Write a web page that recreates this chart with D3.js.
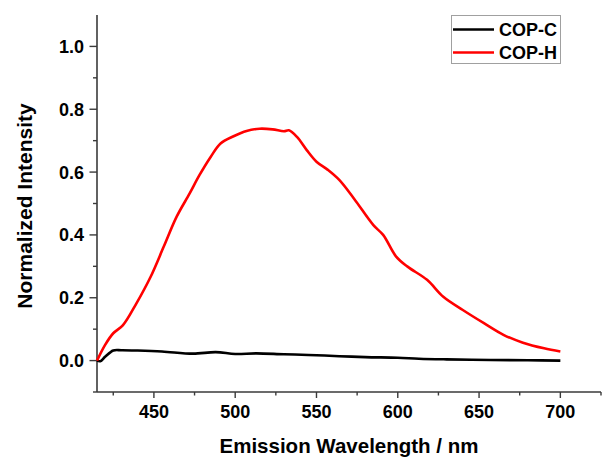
<!DOCTYPE html>
<html>
<head>
<meta charset="utf-8">
<script src="https://cdn.jsdelivr.net/npm/d3@7"></script>
<style>
  body { margin: 0; background: #fff; }
  svg { display: block; font-family: "Liberation Sans", Arial, sans-serif; font-weight: bold; }
</style>
</head>
<body>
<svg id="chart" width="602" height="459"></svg>
<script>
// wavelength (nm) / normalized intensity
const copCWave = [415, 417, 420, 425, 430, 440, 455, 474, 488, 500, 513, 530, 545, 564, 580, 600, 613, 630, 657, 680, 700];
const copCVal  = [0.0, -0.002, 0.012, 0.032, 0.033, 0.032, 0.029, 0.022, 0.027, 0.021, 0.023, 0.020, 0.018, 0.014, 0.011, 0.009, 0.006, 0.004, 0.002, 0.001, 0.0];

const copHWave = [415, 420, 425, 431, 439, 448, 456, 464, 472, 478, 485, 491, 499, 507, 515, 523, 530, 533, 538, 544, 550, 557, 564, 573, 585, 591, 599, 606, 618, 628, 640, 653, 665, 677, 690, 700];
const copHVal  = [0.0, 0.05, 0.087, 0.113, 0.18, 0.267, 0.362, 0.458, 0.532, 0.59, 0.649, 0.691, 0.714, 0.731, 0.738, 0.736, 0.730, 0.733, 0.712, 0.67, 0.633, 0.607, 0.575, 0.516, 0.431, 0.40, 0.331, 0.299, 0.257, 0.203, 0.161, 0.119, 0.082, 0.057, 0.039, 0.029];

const xTicks = [450, 500, 550, 600, 650, 700];
const yTicks = [0.0, 0.2, 0.4, 0.6, 0.8, 1.0];
const seriesNames = ["COP-C", "COP-H"];
const seriesColors = ["#000000", "#ff0000"];

const svg = d3.select("#chart");
const axisColor = "#3a3a3a";

const x = d3.scaleLinear().domain([415, 725]).range([97, 601]);
const y = d3.scaleLinear().domain([-0.1, 1.1]).range([392, 15]);

// x axis with minor ticks
const xMinor = d3.range(425, 726, 50);
const gx = svg.append("g").attr("transform", "translate(0,392)");
gx.append("line").attr("x1", 97).attr("x2", 601).attr("stroke", axisColor).attr("stroke-width", 1.6);
gx.selectAll(".maj").data(xTicks).join("line")
  .attr("x1", d => x(d)).attr("x2", d => x(d)).attr("y1", 0).attr("y2", 6)
  .attr("stroke", axisColor).attr("stroke-width", 1.4);
gx.selectAll(".min").data(xMinor).join("line")
  .attr("x1", d => x(d)).attr("x2", d => x(d)).attr("y1", 0).attr("y2", 3.5)
  .attr("stroke", axisColor).attr("stroke-width", 1.4);
gx.selectAll("text").data(xTicks).join("text")
  .attr("x", d => x(d)).attr("y", 26)
  .attr("text-anchor", "middle").attr("font-size", 18).attr("fill", "#000")
  .text(d => d);

// y axis with minor ticks
const yMinor = [-0.1, 0.1, 0.3, 0.5, 0.7, 0.9];
const gy = svg.append("g").attr("transform", "translate(97,0)");
gy.append("line").attr("y1", 15).attr("y2", 392).attr("stroke", axisColor).attr("stroke-width", 1.6);
gy.selectAll(".maj").data(yTicks).join("line")
  .attr("x1", -7.5).attr("x2", 0).attr("y1", d => y(d)).attr("y2", d => y(d))
  .attr("stroke", axisColor).attr("stroke-width", 1.4);
gy.selectAll(".min").data(yMinor).join("line")
  .attr("x1", -4).attr("x2", 0).attr("y1", d => y(d)).attr("y2", d => y(d))
  .attr("stroke", axisColor).attr("stroke-width", 1.4);
gy.selectAll("text").data(yTicks).join("text")
  .attr("x", -13).attr("y", d => y(d)).attr("dy", "0.36em")
  .attr("text-anchor", "end").attr("font-size", 18).attr("fill", "#000")
  .text(d => d3.format(".1f")(d));

// axis titles
svg.append("text").attr("x", 349).attr("y", 453)
  .attr("text-anchor", "middle").attr("font-size", 20.5).attr("fill", "#000")
  .text("Emission Wavelength / nm");
svg.append("text").attr("transform", "translate(32,206) rotate(-90)")
  .attr("text-anchor", "middle").attr("font-size", 21).attr("fill", "#000")
  .text("Normalized Intensity");

// curves
const line = d3.line().x(d => x(d[0])).y(d => y(d[1])).curve(d3.curveCatmullRom.alpha(0.5));
const series = [d3.zip(copCWave, copCVal), d3.zip(copHWave, copHVal)];
series.forEach((s, i) => {
  svg.append("path").datum(s)
    .attr("fill", "none").attr("stroke", seriesColors[i])
    .attr("stroke-width", 2.6).attr("stroke-linejoin", "round")
    .attr("d", line);
});

// legend
const lg = svg.append("g");
lg.append("rect").attr("x", 451.5).attr("y", 15.5).attr("width", 109).attr("height", 48)
  .attr("fill", "#fff").attr("stroke", "#a0a0a0").attr("stroke-width", 1);
seriesNames.forEach((n, i) => {
  const yy = 29.5 + i * 23;
  lg.append("line").attr("x1", 453).attr("x2", 494).attr("y1", yy).attr("y2", yy)
    .attr("stroke", seriesColors[i]).attr("stroke-width", 2.6);
  lg.append("text").attr("x", 499).attr("y", yy).attr("dy", "0.36em")
    .attr("font-size", 18).attr("fill", "#000").text(n);
});
</script>
</body>
</html>
